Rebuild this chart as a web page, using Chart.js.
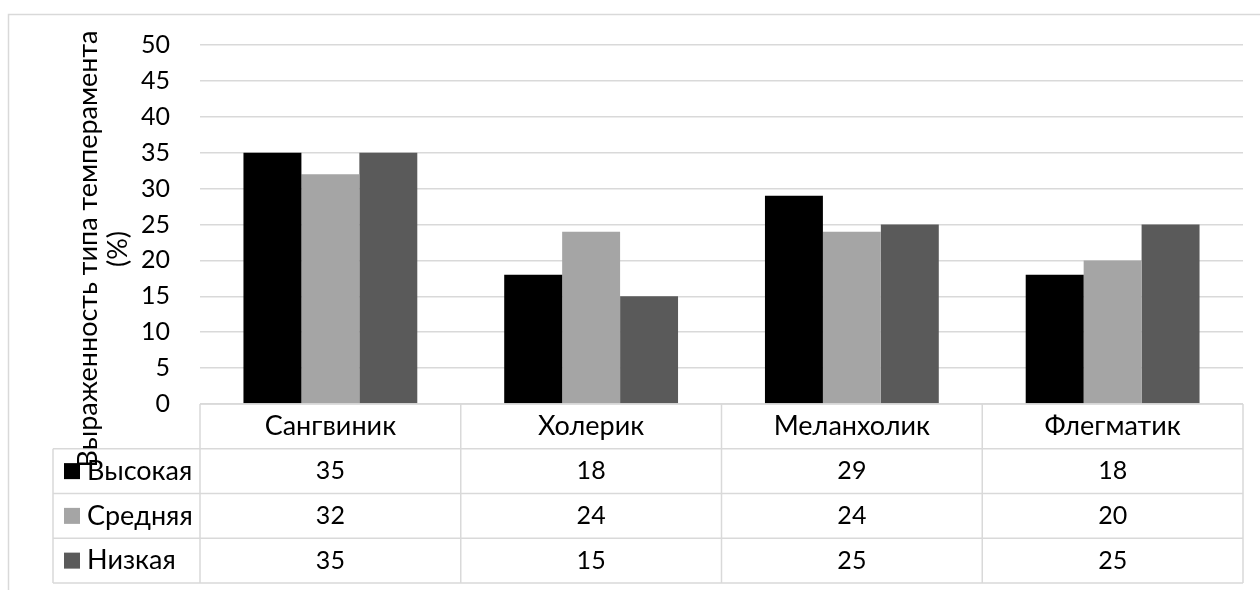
<!DOCTYPE html>
<html>
<head>
<meta charset="utf-8">
<script src="https://cdn.jsdelivr.net/npm/chart.js@4/dist/chart.umd.min.js"></script>
<style>
    html, body { margin: 0; padding: 0; background: #fff; }
</style>
</head>
<body>
<canvas id="barChart" width="1260" height="590"></canvas>
<script>
// Chart data
const categories = ['Сангвиник', 'Холерик', 'Меланхолик', 'Флегматик'];
const seriesNames = ['Высокая', 'Средняя', 'Низкая'];
const highValues = [35, 18, 29, 18];
const midValues = [32, 24, 24, 20];
const lowValues = [35, 15, 25, 25];
const yAxisTitle = ['Выраженность типа темперамента', '(%)'];

const seriesValues = [highValues, midValues, lowValues];
const seriesColors = ['#000000', '#A5A5A5', '#5A5A5A'];
const FONT = 'Lato, "Open Sans", sans-serif';
const TEXT_SIZE = 27;
const NUM_SIZE = 25;
const LINE = '#D9D9D9';

// Frame, y-axis title and the data table under the plot
const tablePlugin = {
    id: 'excelTable',
    beforeDraw(chart) {
        const ctx = chart.ctx;
        ctx.save();
        ctx.strokeStyle = LINE;
        ctx.lineWidth = 1.5;
        ctx.beginPath();
        ctx.moveTo(8.5, chart.height);
        ctx.lineTo(8.5, 14.5);
        ctx.lineTo(chart.width, 14.5);
        ctx.stroke();
        ctx.restore();
    },
    afterDraw(chart) {
        const ctx = chart.ctx;
        const area = chart.chartArea;
        const x = chart.scales.x;
        const colW = (area.right - area.left) / categories.length;
        const rowH = 44.75;
        const top = area.bottom;
        const bottom = top + rowH * (seriesNames.length + 1);
        const tableLeft = 53;

        ctx.save();
        ctx.strokeStyle = LINE;
        ctx.lineWidth = 1.5;
        ctx.beginPath();
        // header row top
        ctx.moveTo(area.left, top);
        ctx.lineTo(area.right, top);
        // series rows
        for (let r = 1; r <= seriesNames.length + 1; r++) {
            ctx.moveTo(tableLeft, top + rowH * r);
            ctx.lineTo(area.right, top + rowH * r);
        }
        ctx.moveTo(tableLeft, top + rowH);
        ctx.lineTo(tableLeft, bottom);
        for (let c = 0; c <= categories.length; c++) {
            const cx = area.left + colW * c;
            ctx.moveTo(cx, top);
            ctx.lineTo(cx, bottom);
        }
        ctx.stroke();

        ctx.fillStyle = '#000';
        ctx.textBaseline = 'middle';
        ctx.textAlign = 'center';
        categories.forEach((cat, i) => {
            const cx = x.getPixelForValue(i);
            ctx.font = TEXT_SIZE + 'px ' + FONT;
            ctx.fillText(cat, cx, top + rowH / 2);
            ctx.font = NUM_SIZE + 'px ' + FONT;
            seriesValues.forEach((vals, r) => {
                ctx.fillText(String(vals[i]), cx, top + rowH * (r + 1.5));
            });
        });

        ctx.font = TEXT_SIZE + 'px ' + FONT;
        ctx.textAlign = 'left';
        seriesNames.forEach((name, r) => {
            const cy = top + rowH * (r + 1.5);
            ctx.fillStyle = seriesColors[r];
            ctx.fillRect(64, cy - 8, 16, 16);
            ctx.fillStyle = '#000';
            ctx.fillText(name, 87, cy);
        });

        // y-axis title
        ctx.translate(0, 249);
        ctx.rotate(-Math.PI / 2);
        ctx.textAlign = 'center';
        ctx.fillText(yAxisTitle[0], 0, 88);
        ctx.fillText(yAxisTitle[1], 0, 118);
        ctx.restore();
    }
};

const createBarChart = (elementId) => {
    const ctx = document.getElementById(elementId).getContext('2d');
    return new Chart(ctx, {
        type: 'bar',
        data: {
            labels: categories,
            datasets: seriesNames.map((name, i) => ({
                label: name,
                data: seriesValues[i],
                backgroundColor: seriesColors[i],
                borderWidth: 0,
                categoryPercentage: 3 / 4.5,
                barPercentage: 1
            }))
        },
        options: {
            responsive: false,
            animation: false,
            layout: { padding: { top: 45, right: 17, bottom: 186, left: 0 } },
            plugins: {
                legend: { display: false },
                tooltip: { enabled: false }
            },
            scales: {
                x: { display: false },
                y: {
                    min: 0,
                    max: 50,
                    afterFit: (scale) => { scale.width = 200; },
                    border: { display: false },
                    grid: { color: LINE, lineWidth: 1.5, drawTicks: false },
                    ticks: {
                        stepSize: 5,
                        padding: 30,
                        color: '#000',
                        font: { family: FONT, size: NUM_SIZE }
                    }
                }
            }
        },
        plugins: [tablePlugin]
    });
};

createBarChart('barChart');
</script>
</body>
</html>
